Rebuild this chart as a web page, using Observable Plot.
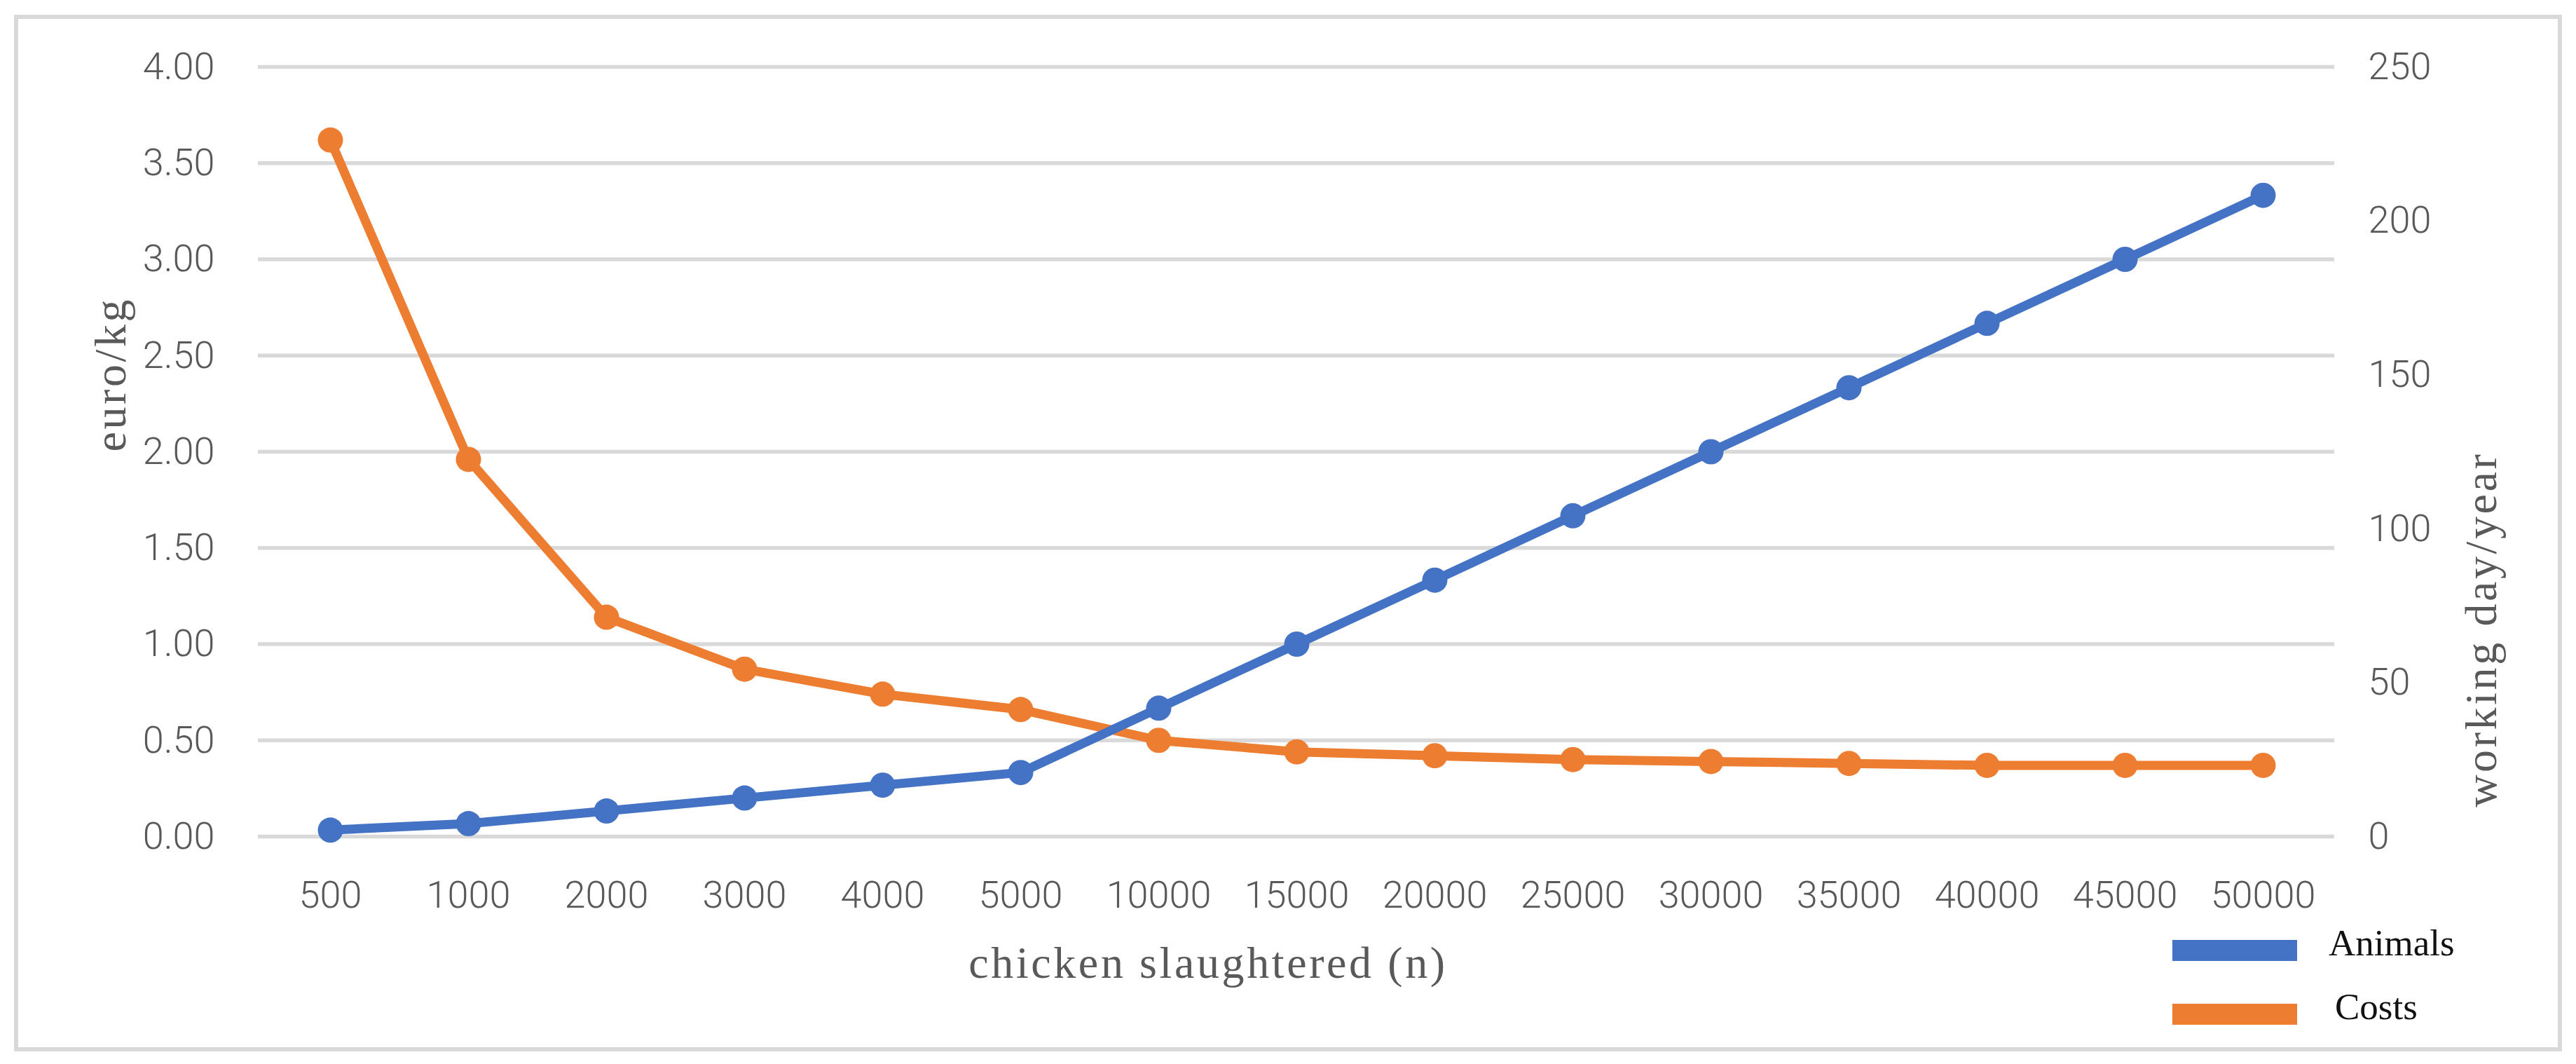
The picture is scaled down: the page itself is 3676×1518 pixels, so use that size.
<!DOCTYPE html>
<html>
<head>
<meta charset="utf-8">
<script src="https://cdn.jsdelivr.net/npm/d3@7"></script>
<script src="https://cdn.jsdelivr.net/npm/@observablehq/plot@0.6"></script>
<style>
html, body { margin: 0; padding: 0; background: #fff; }
#wrap { position: relative; width: 3676px; height: 1518px; overflow: hidden; }
#wrap > svg { position: absolute; left: 0; top: 0; }
#frame { position: absolute; left: 20px; top: 21px; width: 3636px; height: 1479px; box-sizing: border-box; border: 6px solid #d9d9d9; pointer-events: none; }
</style>
</head>
<body>
<div id="wrap"><div id="frame"></div></div>
<script>
// ---- data ----
const categories = ["500", "1000", "2000", "3000", "4000", "5000", "10000", "15000", "20000", "25000", "30000", "35000", "40000", "45000", "50000"];
const costs = [3.62, 1.96, 1.14, 0.87, 0.74, 0.66, 0.50, 0.44, 0.42, 0.40, 0.39, 0.38, 0.37, 0.37, 0.37];       // euro/kg (left axis)
const animals = [2.1, 4.2, 8.3, 12.5, 16.7, 20.8, 41.7, 62.5, 83.3, 104.2, 125.0, 145.8, 166.7, 187.5, 208.3]; // working day/year (right axis)
const leftTicks = [0, 0.5, 1, 1.5, 2, 2.5, 3, 3.5, 4];
const rightTicks = [0, 50, 100, 150, 200, 250];
const seriesNames = ["Animals", "Costs"];
const seriesColors = ["#4472C4", "#ED7D31"];
const xTitle = "chicken slaughtered (n)";
const leftTitle = "euro/kg";
const rightTitle = "working day/year";

const leftMax = 4, rightMax = 250;
const k = leftMax / rightMax; // right-axis value -> left-axis scale

const animalsData = categories.map((c, i) => ({cat: c, v: animals[i]}));
const costsData = categories.map((c, i) => ({cat: c, v: costs[i]}));

const tickFont = "Roboto, 'Noto Sans', sans-serif";
const serif = "Liberation Serif";

const chart = Plot.plot({
  width: 3676,
  height: 1518,
  marginTop: 95,
  marginBottom: 325,
  marginLeft: 368,
  marginRight: 345,
  style: {background: "transparent", fontFamily: tickFont, color: "#595959", overflow: "visible"},
  x: {type: "point", domain: categories, padding: 0.5, axis: null},
  y: {domain: [0, leftMax], axis: null},
  marks: [
    Plot.ruleY(leftTicks, {stroke: "#d9d9d9", strokeWidth: 5.5}),
    Plot.axisY(leftTicks, {anchor: "left", tickSize: 0, tickPadding: 62, tickFormat: d3.format(".2f"), fontSize: 54, fontWeight: 300, label: null}),
    Plot.axisY(rightTicks.map(v => v * k), {anchor: "right", tickSize: 0, tickPadding: 48, tickFormat: v => String(Math.round(v / k)), fontSize: 54, fontWeight: 300, label: null}),
    Plot.axisX(categories, {anchor: "bottom", tickSize: 0, tickPadding: 63, fontSize: 54, fontWeight: 300, label: null}),
    Plot.line(costsData, {x: "cat", y: "v", stroke: seriesColors[1], strokeWidth: 13, strokeLinejoin: "round", strokeLinecap: "round"}),
    Plot.dot(costsData, {x: "cat", y: "v", r: 18, fill: seriesColors[1], stroke: null}),
    Plot.line(animalsData, {x: "cat", y: d => d.v * k, stroke: seriesColors[0], strokeWidth: 13, strokeLinejoin: "round", strokeLinecap: "round"}),
    Plot.dot(animalsData, {x: "cat", y: d => d.v * k, r: 18, fill: seriesColors[0], stroke: null}),
    Plot.text([xTitle], {frameAnchor: "bottom", dx: -126, dy: 201, fontSize: 64, fontFamily: serif, fill: "#595959"}),
    Plot.text([leftTitle], {frameAnchor: "left", rotate: -90, dx: -210, fontSize: 64, fontFamily: serif, fill: "#595959"}),
    Plot.text([rightTitle], {frameAnchor: "right", rotate: -90, dx: 210, fontSize: 64, fontFamily: serif, fill: "#595959"})
  ]
});

d3.select(chart).selectAll(`g[font-family='${serif}'] text`).attr("letter-spacing", 3.6);

const wrap = document.getElementById("wrap");
wrap.insertBefore(chart, wrap.firstChild);

// ---- legend (overlay) ----
const legend = d3.select(wrap).append("svg")
  .attr("width", 3676).attr("height", 1518)
  .style("position", "absolute").style("left", "0px").style("top", "0px");
const lg = legend.append("g").attr("transform", "translate(3100,1341)");
const rows = lg.selectAll("g").data(seriesNames).join("g")
  .attr("transform", (d, i) => `translate(0,${i * 91})`);
rows.append("rect").attr("width", 178).attr("height", 30).attr("fill", (d, i) => seriesColors[i]);
rows.append("text")
  .attr("x", (d, i) => i === 0 ? 223 : 232)
  .attr("y", 22)
  .attr("font-family", serif)
  .attr("font-size", 53)
  .attr("fill", "#111")
  .text(d => d);
</script>
</body>
</html>
